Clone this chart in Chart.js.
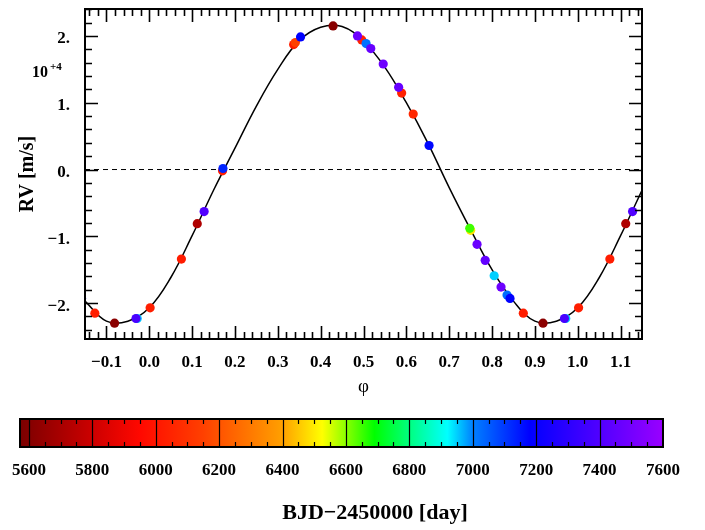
<!DOCTYPE html>
<html lang="en">
<head>
<meta charset="UTF-8">
<title>RV phase plot</title>
<script src="https://cdn.jsdelivr.net/npm/chart.js@4/dist/chart.umd.min.js"></script>
<style>
  body { margin: 0; background: #fff; }
  #wrap { position: relative; width: 705px; height: 530px; }
  canvas { position: absolute; left: 0; }
</style>
</head>
<body>
<div id="wrap">
  <canvas id="rvChart" width="705" height="400" style="top:0"></canvas>
  <canvas id="barChart" width="705" height="130" style="top:400px"></canvas>
</div>
<script>
// measured points: orbital phase, RV in units of 1e4 m/s, BJD-2450000 (sets colour)
const phase = [0.002, 0.075, 0.112, 0.128, 0.171, 0.172, 0.337, 0.341, 0.353, 0.429,
               0.486, 0.496, 0.506, 0.517, 0.546, 0.582, 0.589, 0.616, 0.653, 0.750,
               0.748, 0.765, 0.784, 0.805, 0.821, 0.835, 0.842, 0.873, 0.919, 0.972, 0.969];
const rv    = [-2.07, -1.34, -0.81, -0.63, -0.02, 0.015, 1.87, 1.90, 1.985, 2.15,
               2.00, 1.94, 1.885, 1.81, 1.58, 1.23, 1.145, 0.83, 0.36, -0.91,
               -0.88, -1.12, -1.36, -1.59, -1.76, -1.88, -1.93, -2.15, -2.30, -2.23, -2.23];
const bjd   = [6030, 6020, 5720, 7400, 6030, 7130, 6030, 6150, 7180, 5610,
               7480, 6040, 7020, 7460, 7480, 7460, 6040, 6060, 7170, 6490,
               6650, 7470, 7450, 6950, 7480, 7030, 7180, 6030, 5620, 6950, 7380];

// model curve
const modelPhase = [-0.15, -0.10, -0.05, 0.00, 0.05, 0.10, 0.15, 0.20, 0.25, 0.30,
                    0.35, 0.40, 0.45, 0.50, 0.55, 0.60, 0.65, 0.70, 0.75, 0.80,
                    0.85, 0.90, 0.95, 1.00, 1.05, 1.10, 1.15];
const modelRV    = [-1.97, -2.27, -2.27, -2.07, -1.62, -0.99, -0.31, 0.32, 0.95, 1.50,
                    1.93, 2.13, 2.14, 1.92, 1.53, 1.00, 0.40, -0.27, -0.90, -1.50,
                    -1.97, -2.27, -2.27, -2.07, -1.62, -0.99, -0.31];

// tick labels
const xTicks = [-0.1, 0.0, 0.1, 0.2, 0.3, 0.4, 0.5, 0.6, 0.7, 0.8, 0.9, 1.0, 1.1];
const yTicks = [-2, -1, 0, 1, 2];
const cbarTicks = [5600, 5800, 6000, 6200, 6400, 6600, 6800, 7000, 7200, 7400, 7600];

// colour bar
const cbarMin = 5572, cbarMax = 7600;
const cmapValues = [5572, 5800, 5950, 6150, 6400, 6525, 6690, 6800, 6920, 7000, 7180, 7600];
const cmapColors = ['#7a0000', '#cc0000', '#ff0800', '#ff4000', '#ffa000', '#ffff00',
                    '#00ff00', '#00ff80', '#00ffff', '#0080ff', '#0000ff', '#9900ff'];

const xMin = -0.15, xMax = 1.15, yMin = -2.537, yMax = 2.403;
const serif = '"Liberation Serif", "Times New Roman", serif';

function hexRgb(h) {
  return [parseInt(h.slice(1, 3), 16), parseInt(h.slice(3, 5), 16), parseInt(h.slice(5, 7), 16)];
}
function colourFor(v) {
  if (v <= cmapValues[0]) return cmapColors[0];
  for (let i = 1; i < cmapValues.length; i++) {
    if (v <= cmapValues[i]) {
      const t = (v - cmapValues[i - 1]) / (cmapValues[i] - cmapValues[i - 1]);
      const a = hexRgb(cmapColors[i - 1]), b = hexRgb(cmapColors[i]);
      const c = a.map((x, k) => Math.round(x + (b[k] - x) * t));
      return `rgb(${c[0]},${c[1]},${c[2]})`;
    }
  }
  return cmapColors[cmapColors.length - 1];
}

// points, repeated one cycle either side where they fall in the plotted window
let pts = [];
phase.forEach((p, i) => {
  [p - 1, p, p + 1].forEach(q => {
    if (q > xMin - 0.02 && q < xMax + 0.02) pts.push({x: q, y: rv[i], t: bjd[i]});
  });
});
pts.sort((a, b) => a.t - b.t);   // later epochs on top

const fmtNum = v => {
  const r = Math.round(v * 10) / 10;
  return (r < 0 ? '\u2212' : '') + Math.abs(r).toFixed(1);
};
const setTicks = list => s => { s.ticks = list.map(v => ({value: v})); };
const noPad = s => { s.paddingLeft = 0; s.paddingRight = 0; s.paddingTop = 0; s.paddingBottom = 0; };

const rvFrame = {
  id: 'rvFrame',
  afterDraw(chart) {
    const {ctx, chartArea: a, scales: {x, y}} = chart;
    ctx.save();
    ctx.strokeStyle = '#000';
    ctx.lineWidth = 1.6;
    ctx.beginPath();
    for (let k = Math.ceil(xMin / 0.02); k <= Math.floor(xMax / 0.02); k++) {
      const px = Math.round(x.getPixelForValue(k * 0.02)) + 0.5;
      const len = k % 5 === 0 ? 13 : 7;
      ctx.moveTo(px, a.bottom); ctx.lineTo(px, a.bottom - len);
      ctx.moveTo(px, a.top); ctx.lineTo(px, a.top + len);
    }
    for (let k = Math.ceil(yMin / 0.2); k <= Math.floor(yMax / 0.2); k++) {
      const py = Math.round(y.getPixelForValue(k * 0.2)) + 0.5;
      const len = k % 5 === 0 ? 13 : 7;
      ctx.moveTo(a.left, py); ctx.lineTo(a.left + len, py);
      ctx.moveTo(a.right, py); ctx.lineTo(a.right - len, py);
    }
    ctx.stroke();
    ctx.lineWidth = 2;
    ctx.strokeRect(a.left, a.top, a.right - a.left, a.bottom - a.top);
    // exponent label
    ctx.fillStyle = '#000';
    ctx.textBaseline = 'alphabetic';
    ctx.font = 'bold 16px ' + serif;
    ctx.fillText('10', 32, 77);
    ctx.font = 'bold 11px ' + serif;
    ctx.fillText('+4', 50, 70);
    ctx.restore();
  }
};

new Chart(document.getElementById('rvChart'), {
  type: 'scatter',
  data: {
    datasets: [{
      data: pts,
      pointBackgroundColor: pts.map(p => colourFor(p.t)),
      pointBorderWidth: 0,
      pointRadius: 4.6,
      showLine: false,
      clip: 0,
      order: 0
    }, {
      type: 'line',
      data: modelPhase.map((p, i) => ({x: p, y: modelRV[i]})),
      borderColor: '#000',
      borderWidth: 1.5,
      pointRadius: 0,
      tension: 0.4,
      fill: false,
      clip: 0,
      order: 1
    }, {
      type: 'line',
      data: [{x: xMin, y: 0}, {x: xMax, y: 0}],
      borderColor: '#000',
      borderWidth: 1,
      borderDash: [5, 4],
      pointRadius: 0,
      order: 2
    }]
  },
  options: {
    responsive: false,
    animation: false,
    devicePixelRatio: 1,
    events: [],
    layout: {padding: {top: 9, right: 63, left: 0, bottom: 0}},
    plugins: {legend: {display: false}, tooltip: {enabled: false}},
    scales: {
      x: {
        type: 'linear', min: xMin, max: xMax, bounds: 'data',
        grid: {display: false, drawTicks: false},
        border: {display: false},
        ticks: {
          padding: 13, color: '#000',
          font: {family: serif, size: 17, weight: 'bold'},
          callback: v => fmtNum(v)
        },
        title: {display: true, text: '\u03c6', color: '#000',
                font: {family: serif, size: 19}, padding: {top: 0, bottom: 2}},
        afterBuildTicks: setTicks(xTicks),
        afterFit(s) { s.height = 61; noPad(s); }
      },
      y: {
        type: 'linear', min: yMin, max: yMax, bounds: 'data',
        grid: {display: false, drawTicks: false},
        border: {display: false},
        ticks: {
          padding: 15, labelOffset: 3, color: '#000',
          font: {family: serif, size: 17, weight: 'bold'},
          callback: v => (v < 0 ? '\u2212' : '') + Math.abs(Math.round(v)) + '.'
        },
        title: {display: true, text: 'RV [m/s]', color: '#000',
                font: {family: serif, size: 20, weight: 'bold'}, padding: {top: 16, bottom: 0}},
        afterBuildTicks: setTicks(yTicks),
        afterFit(s) { s.width = 85; noPad(s); }
      }
    }
  },
  plugins: [rvFrame]
});

const barFrame = {
  id: 'barFrame',
  afterDraw(chart) {
    const {ctx, chartArea: a, scales: {x}} = chart;
    ctx.save();
    ctx.strokeStyle = '#000';
    ctx.lineWidth = 1.2;
    ctx.beginPath();
    for (let v = Math.ceil(cbarMin / 50) * 50; v < cbarMax; v += 50) {
      const px = Math.round(x.getPixelForValue(v)) + 0.5;
      if (v % 200 === 0) {
        ctx.moveTo(px, a.top); ctx.lineTo(px, a.bottom);
      } else {
        ctx.moveTo(px, a.top); ctx.lineTo(px, a.top + 5);
        ctx.moveTo(px, a.bottom); ctx.lineTo(px, a.bottom - 5);
      }
    }
    ctx.stroke();
    ctx.lineWidth = 2;
    ctx.strokeRect(a.left, a.top, a.right - a.left, a.bottom - a.top);
    // axis title, sits right of the bar centre in the original
    ctx.fillStyle = '#000';
    ctx.font = 'bold 22px ' + serif;
    ctx.textAlign = 'center';
    ctx.textBaseline = 'middle';
    ctx.fillText('BJD\u22122450000 [day]', 375, 113);
    ctx.restore();
  }
};

new Chart(document.getElementById('barChart'), {
  type: 'bar',
  data: {
    labels: [''],
    datasets: [{
      data: [[cbarMin, cbarMax]],
      barPercentage: 1,
      categoryPercentage: 1,
      borderWidth: 0,
      backgroundColor: c => {
        const xs = c.chart.scales.x;
        if (!xs || !c.chart.chartArea) return '#000';
        const g = c.chart.ctx.createLinearGradient(xs.getPixelForValue(cbarMin), 0,
                                                   xs.getPixelForValue(cbarMax), 0);
        cmapValues.forEach((v, i) => g.addColorStop((v - cbarMin) / (cbarMax - cbarMin), cmapColors[i]));
        return g;
      }
    }]
  },
  options: {
    indexAxis: 'y',
    responsive: false,
    animation: false,
    devicePixelRatio: 1,
    events: [],
    layout: {padding: {top: 19, left: 20, right: 42, bottom: 0}},
    plugins: {legend: {display: false}, tooltip: {enabled: false}},
    scales: {
      x: {
        type: 'linear', min: cbarMin, max: cbarMax, bounds: 'data',
        grid: {display: false, drawTicks: false},
        border: {display: false},
        ticks: {
          padding: 13, color: '#000',
          font: {family: serif, size: 17, weight: 'bold'},
          callback: v => String(v)
        },
        afterBuildTicks: setTicks(cbarTicks),
        afterFit(s) { s.height = 83; noPad(s); }
      },
      y: {display: false}
    }
  },
  plugins: [barFrame]
});
</script>
</body>
</html>
